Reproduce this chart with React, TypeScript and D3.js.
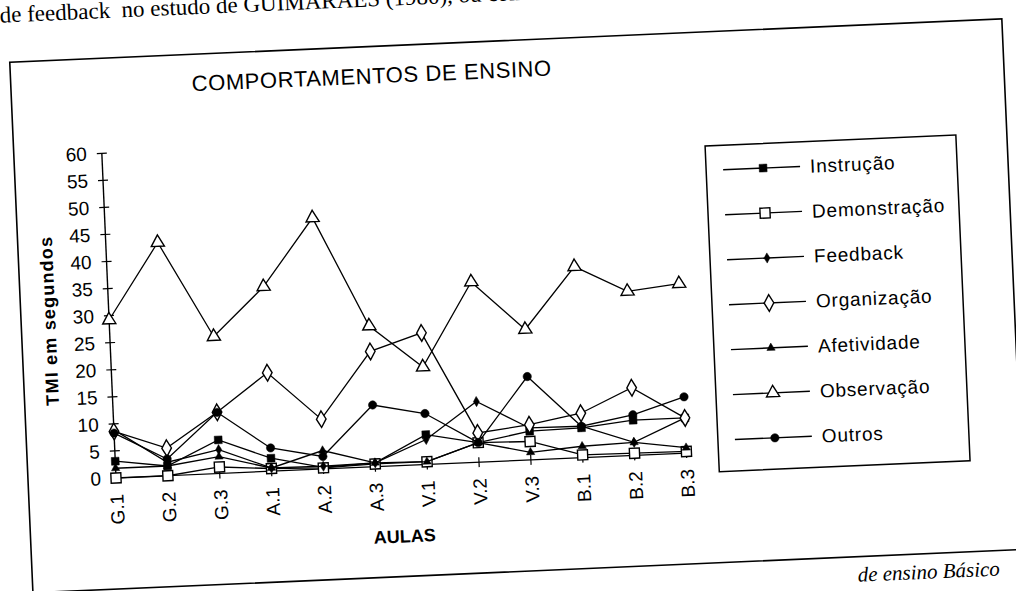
import React, { useEffect, useRef } from 'react';
import * as d3 from 'd3';

const aulas = ['G.1', 'G.2', 'G.3', 'A.1', 'A.2', 'A.3', 'V.1', 'V.2', 'V.3', 'B.1', 'B.2', 'B.3'];
const instrucao = [3.1, 1.8, 6.2, 2.4, 0.3, 0.7, 5.5, 3.6, 5.3, 5.5, 6.5, 6.5];
const demonstracao = [0, 0, 1.2, 0.5, 0.2, 0.5, 0.5, 3.6, 3.4, 0.5, 0.4, 0.3];
const feedback = [8.9, 2.5, 4.4, 0.6, 0.5, 0.7, 4.6, 11.2, 5.9, 5.8, 2.4, 6.5];
const organizacao = [8.6, 5.1, 11.3, 18.2, 9.2, 21.3, 24.3, 5.4, 6.5, 8.2, 12.5, 6.5];
const afetividade = [1.8, 1.8, 3.1, 0.6, 3.4, 0.7, 0.5, 3.6, 1.4, 2.1, 2.4, 1.0];
const observacao = [29.2, 43.1, 25.3, 34.1, 46.4, 26.0, 18.0, 33.3, 24.1, 35.3, 30.3, 31.3];
const outros = [8.3, 3.1, 11.3, 4.3, 2.3, 11.4, 9.4, 3.6, 15.4, 5.8, 7.5, 10.4];
const yTicks = [0, 5, 10, 15, 20, 25, 30, 35, 40, 45, 50, 55, 60];

interface Serie {
  nome: string;
  valores: number[];
  marca: d3.SymbolType;
  tam: number;
  cheio: boolean;
}

const series: Serie[] = [
  { nome: 'Instrução', valores: instrucao, marca: d3.symbolSquare, tam: 60, cheio: true },
  { nome: 'Demonstração', valores: demonstracao, marca: d3.symbolSquare, tam: 100, cheio: false },
  { nome: 'Feedback', valores: feedback, marca: d3.symbolDiamond, tam: 30, cheio: true },
  { nome: 'Organização', valores: organizacao, marca: d3.symbolDiamond, tam: 80, cheio: false },
  { nome: 'Afetividade', valores: afetividade, marca: d3.symbolTriangle, tam: 30, cheio: true },
  { nome: 'Observação', valores: observacao, marca: d3.symbolTriangle, tam: 75, cheio: false },
  { nome: 'Outros', valores: outros, marca: d3.symbolCircle, tam: 55, cheio: true },
];

const sans = '"Liberation Sans", Arial, sans-serif';
const serif = '"Liberation Serif", "Times New Roman", serif';

const App: React.FC = () => {
  const svgRef = useRef<SVGSVGElement | null>(null);

  useEffect(() => {
    const root = d3.select(svgRef.current);
    root.selectAll('*').remove();

    // the scan is slightly tilted, so everything is drawn straight and then rotated
    const g = root.append('g').attr('transform', 'rotate(-2.5, 116, 478)');

    const x = d3.scalePoint<string>().domain(aulas).range([116, 687]);
    const y = d3.scaleLinear().domain([0, 60]).range([478, 153]);

    // page text above and below the figure
    g.append('text')
      .attr('x', 20).attr('y', 18)
      .style('font-family', serif).style('font-size', '23px').style('white-space', 'pre')
      .text('de feedback  no estudo de GUIMARAES (1980), ou com');

    g.append('rect')
      .attr('x', 28).attr('y', 58).attr('width', 993).attr('height', 531)
      .attr('fill', 'none').attr('stroke', 'black').attr('stroke-width', 1.6);

    g.append('text')
      .attr('x', 995).attr('y', 614).attr('text-anchor', 'end')
      .style('font-family', serif).style('font-size', '21px').style('font-style', 'italic')
      .text('de ensino Básico');

    g.append('text')
      .attr('x', 389).attr('y', 95).attr('text-anchor', 'middle')
      .style('font-family', sans).style('font-size', '22px').style('letter-spacing', '0.6px')
      .text('COMPORTAMENTOS DE ENSINO');

    // y axis
    g.append('line')
      .attr('x1', 116).attr('x2', 116).attr('y1', y(0)).attr('y2', y(60))
      .attr('stroke', 'black').attr('stroke-width', 1.4);
    yTicks.forEach(t => {
      g.append('line')
        .attr('x1', 111).attr('x2', 121).attr('y1', y(t)).attr('y2', y(t))
        .attr('stroke', 'black').attr('stroke-width', 1.2);
      g.append('text')
        .attr('x', 101).attr('y', y(t)).attr('dy', '0.35em').attr('text-anchor', 'end')
        .style('font-family', sans).style('font-size', '19px')
        .text(t);
    });

    g.append('text')
      .attr('transform', 'translate(56,318) rotate(-90)')
      .attr('text-anchor', 'middle').attr('dy', '0.35em')
      .style('font-family', sans).style('font-size', '18px').style('font-weight', 'bold')
      .style('letter-spacing', '1.2px')
      .text('TMI em segundos');

    // x axis
    g.append('line')
      .attr('x1', 116).attr('x2', 687).attr('y1', y(0)).attr('y2', y(0))
      .attr('stroke', 'black').attr('stroke-width', 1.2);
    aulas.forEach(a => {
      g.append('line')
        .attr('x1', x(a)).attr('x2', x(a)).attr('y1', y(0) - 5).attr('y2', y(0) + 5)
        .attr('stroke', 'black').attr('stroke-width', 1.2);
      g.append('text')
        .attr('transform', `translate(${x(a)},${y(0) + 16}) rotate(-90)`)
        .attr('text-anchor', 'end').attr('dy', '0.35em')
        .style('font-family', sans).style('font-size', '19px')
        .text(a);
    });

    g.append('text')
      .attr('x', 402).attr('y', 555).attr('text-anchor', 'middle')
      .style('font-family', sans).style('font-size', '18px').style('font-weight', 'bold')
      .text('AULAS');

    // series
    const linha = d3.line<number>()
      .x((_, i) => x(aulas[i]) as number)
      .y(d => y(d));

    series.forEach(s => {
      g.append('path')
        .attr('d', linha(s.valores))
        .attr('fill', 'none').attr('stroke', 'black').attr('stroke-width', 1.3);
      g.selectAll(null)
        .data(s.valores)
        .enter()
        .append('path')
        .attr('transform', (d, i) => `translate(${x(aulas[i])},${y(d)})`)
        .attr('d', d3.symbol().type(s.marca).size(s.tam)())
        .attr('fill', s.cheio ? 'black' : 'white')
        .attr('stroke', 'black').attr('stroke-width', s.cheio ? 0.5 : 1.4);
    });

    // legend
    const leg = g.append('g');
    leg.append('rect')
      .attr('x', 719).attr('y', 172).attr('width', 251).attr('height', 326)
      .attr('fill', 'white').attr('stroke', 'black').attr('stroke-width', 1.5);
    series.forEach((s, k) => {
      const ly = 196.6 + 45 * k;
      leg.append('line')
        .attr('x1', 736).attr('x2', 813).attr('y1', ly).attr('y2', ly)
        .attr('stroke', 'black').attr('stroke-width', 1.4);
      leg.append('path')
        .attr('transform', `translate(776,${ly})`)
        .attr('d', d3.symbol().type(s.marca).size(s.tam)())
        .attr('fill', s.cheio ? 'black' : 'white')
        .attr('stroke', 'black').attr('stroke-width', s.cheio ? 0.5 : 1.4);
      leg.append('text')
        .attr('x', 823).attr('y', ly).attr('dy', '0.35em')
        .style('font-family', sans).style('font-size', '19px').style('letter-spacing', '0.8px')
        .text(s.nome);
    });
  }, []);

  return (
    <svg
      ref={svgRef}
      width={1016}
      height={591}
      style={{ position: 'absolute', left: 0, top: 0, background: 'white' }}
    />
  );
};

export default App;
